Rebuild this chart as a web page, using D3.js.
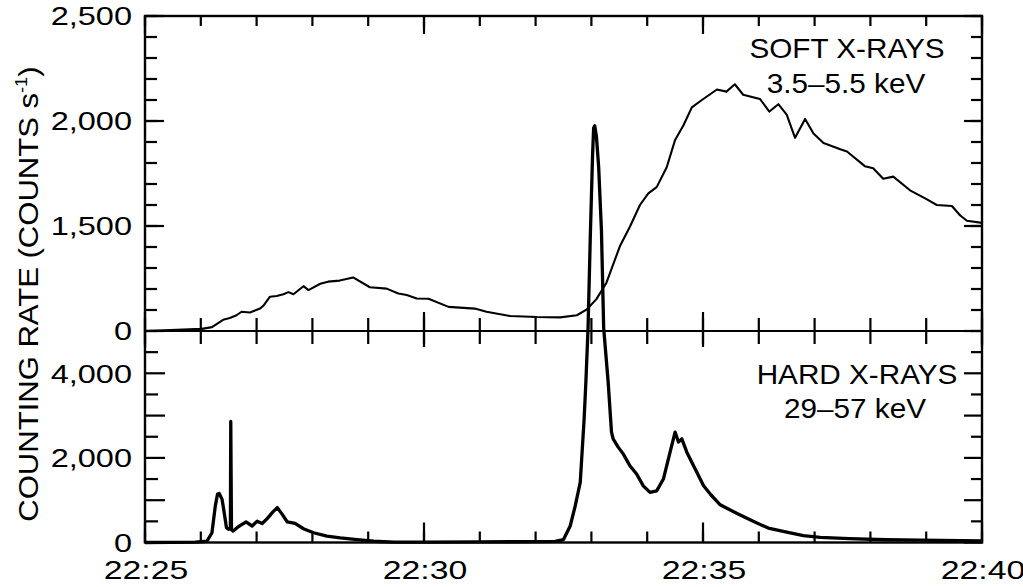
<!DOCTYPE html>
<html>
<head>
<meta charset="utf-8">
<script src="https://cdn.jsdelivr.net/npm/d3@7"></script>
<style>
  html, body { margin: 0; padding: 0; background: #fff; }
  text { font-family: "Liberation Sans", Arial, Helvetica, sans-serif; fill: #000; }
</style>
</head>
<body>
<svg id="chart" width="1023" height="587"></svg>
<script>
// Time axis labels (UT)
const timeTickLabels = ["22:25", "22:30", "22:35", "22:40"];

// Labelled count-rate ticks for each panel
const softTickValues = [0, 1500, 2000, 2500];
const hardTickValues = [0, 2000, 4000];

// Panel captions
const softCaption = ["SOFT X-RAYS", "3.5\u20135.5 keV"];
const hardCaption = ["HARD X-RAYS", "29\u201357 keV"];

// Soft X-ray count rate: [minutes after 22:25, counts per second]
const softXray = [
  [0, 0], [1.02, 30], [1.20, 55], [1.40, 160], [1.52, 185], [1.64, 225], [1.73, 275],
  [1.88, 265], [2.06, 320], [2.12, 360], [2.24, 490], [2.36, 500], [2.48, 525],
  [2.57, 555], [2.66, 525], [2.84, 640], [2.93, 585], [3.14, 675], [3.28, 705],
  [3.49, 720], [3.73, 765], [4.03, 625], [4.33, 605], [4.54, 535], [4.69, 515],
  [4.87, 465], [5.08, 460], [5.44, 345], [5.91, 320], [6.12, 275], [6.54, 215],
  [7.02, 200], [7.44, 195], [7.74, 225], [7.92, 310], [8.09, 455], [8.27, 690],
  [8.51, 1210], [8.69, 1490], [8.87, 1600], [9.02, 1655], [9.17, 1685], [9.35, 1780],
  [9.50, 1910], [9.65, 1980], [9.80, 2065], [9.98, 2100], [10.25, 2150], [10.42, 2140],
  [10.57, 2175], [10.72, 2125], [11.02, 2105], [11.19, 2045], [11.35, 2080],
  [11.50, 2030], [11.65, 1920], [11.83, 2010], [11.98, 1940], [12.16, 1895],
  [12.46, 1865], [12.58, 1855], [12.90, 1785], [13.05, 1775], [13.23, 1725],
  [13.41, 1735], [13.71, 1670], [13.99, 1630], [14.19, 1600], [14.46, 1595],
  [14.61, 1550], [14.73, 1525], [15.0, 1515]
];

// Hard X-ray count rate: [minutes after 22:25, counts per second]
const hardXray = [
  [0, 0], [0.90, 10], [1.11, 30], [1.20, 230], [1.26, 865], [1.30, 1145], [1.33, 1160],
  [1.38, 1025], [1.41, 785], [1.46, 350], [1.50, 310], [1.53, 330], [1.537, 2860],
  [1.55, 300], [1.58, 270], [1.65, 350], [1.71, 405], [1.81, 485], [1.92, 390],
  [2.01, 505], [2.10, 450], [2.19, 565], [2.28, 705], [2.37, 825], [2.46, 665],
  [2.55, 485], [2.69, 450], [2.84, 325], [3.02, 230], [3.26, 150], [3.50, 110],
  [3.80, 70], [4.10, 30], [4.46, 10], [5.0, 10], [6.0, 15], [7.0, 20], [7.35, 25],
  [7.50, 70], [7.62, 390], [7.71, 865], [7.80, 1420], [7.87, 2930], [7.90, 3760],
  [7.94, 5070], [7.98, 7215], [8.02, 9120], [8.04, 9800], [8.06, 9850], [8.09, 9600],
  [8.13, 8880], [8.18, 7380], [8.22, 5070], [8.30, 3800], [8.36, 2610], [8.39, 2450],
  [8.48, 2255], [8.57, 2095], [8.69, 1815], [8.81, 1620], [8.93, 1340], [9.05, 1185],
  [9.17, 1220], [9.29, 1500], [9.41, 2135], [9.50, 2610], [9.56, 2375], [9.62, 2450],
  [9.71, 2135], [9.86, 1740], [10.01, 1340], [10.13, 1145], [10.30, 900], [10.42, 815],
  [10.62, 680], [10.90, 500], [11.17, 340], [11.50, 245], [11.80, 165], [12.10, 120],
  [12.62, 90], [13.29, 65], [13.89, 55], [15.0, 35]
];

const svg = d3.select("#chart");
const parseTime = d3.timeParse("%H:%M");
const majorTimes = timeTickLabels.map(parseTime);
const t0 = majorTimes[0], t1 = majorTimes[majorTimes.length - 1];
const at = m => new Date(+t0 + m * 60000);
const minuteTimes = d3.timeMinute.range(t0, +t1 + 1);

// Scales: shared time axis, broken soft-X-ray axis, linear hard-X-ray axis
const x = d3.scaleTime().domain([t0, t1]).range([145, 982]);
const ySoft = d3.scaleLinear().domain([0, 1500, 2500]).range([331, 226, 16]);
const yHard = d3.scaleLinear().domain([0, 5000]).range([542.5, 331]);

const xL = x.range()[0], xR = x.range()[1];
const yBottom = yHard(0), yTop = ySoft(2500), yMid = ySoft(0);
const fmt = d3.format(",");
const timeFmt = d3.timeFormat("%H:%M");

// ---- frame and panel divider ----
svg.append("rect")
  .attr("x", xL).attr("y", yTop)
  .attr("width", xR - xL).attr("height", yBottom - yTop)
  .attr("fill", "none").attr("stroke", "#000").attr("stroke-width", 2.4);
svg.append("line")
  .attr("x1", xL).attr("x2", xR).attr("y1", yMid).attr("y2", yMid)
  .attr("stroke", "#000").attr("stroke-width", 2.2);

// ---- light curves ----
const softLine = d3.line().x(d => x(at(d[0]))).y(d => ySoft(d[1]));
const hardLine = d3.line().x(d => x(at(d[0]))).y(d => yHard(d[1]));

svg.append("path").datum(softXray).attr("d", softLine)
  .attr("fill", "none").attr("stroke", "#000").attr("stroke-width", 2.1)
  .attr("stroke-linejoin", "round");
svg.append("path").datum(hardXray).attr("d", hardLine)
  .attr("fill", "none").attr("stroke", "#000").attr("stroke-width", 3.3)
  .attr("stroke-linejoin", "round");

// ---- tick marks, drawn as thin filled bars ----
const TICK_W = 2.2;
const tickLayer = svg.append("g").attr("class", "tick-marks");
// vertical ticks at time values; y0/y1 are the ends of the mark
function timeTicks(values, y0, y1) {
  values.forEach(d => {
    tickLayer.append("rect")
      .attr("x", x(d) - TICK_W / 2).attr("y", Math.min(y0, y1))
      .attr("width", TICK_W).attr("height", Math.abs(y1 - y0))
      .attr("fill", "#000");
  });
}
// horizontal ticks at count values; x0/x1 are the ends of the mark
function rateTicks(scale, values, x0, x1) {
  values.forEach(d => {
    tickLayer.append("rect")
      .attr("x", Math.min(x0, x1)).attr("y", scale(d) - TICK_W / 2)
      .attr("width", Math.abs(x1 - x0)).attr("height", TICK_W)
      .attr("fill", "#000");
  });
}

timeTicks(minuteTimes, yBottom, yBottom - 11);
timeTicks(majorTimes, yBottom, yBottom - 20);
timeTicks(minuteTimes, yTop, yTop + 10);
timeTicks(majorTimes, yTop, yTop + 18);
timeTicks(minuteTimes, yMid - 13, yMid + 13);
timeTicks(majorTimes, yMid - 19, yMid + 16);

const softMinor = d3.range(0, 1500, 300).concat(d3.range(1500, 2501, 100));
const hardMinor = d3.range(500, 5000, 1000);
const hardMajor = d3.range(0, 5000, 1000);

rateTicks(ySoft, softMinor, xL, xL + 12);
rateTicks(ySoft, softTickValues, xL, xL + 19);
rateTicks(ySoft, softMinor, xR, xR - 11);
rateTicks(ySoft, softTickValues, xR, xR - 18);
rateTicks(yHard, hardMinor, xL, xL + 13);
rateTicks(yHard, hardMajor, xL, xL + 20);
rateTicks(yHard, hardMinor, xR, xR - 11);
rateTicks(yHard, hardMajor, xR, xR - 18);

// ---- tick labels ----
const LABEL_SIZE = 26;
svg.append("g").selectAll("text").data(majorTimes).join("text")
  .attr("text-anchor", "middle")
  .attr("transform", d => `translate(${x(d) + 1},578.5) scale(1.3,1)`)
  .style("font-size", LABEL_SIZE + "px")
  .text(timeFmt);

function rateLabels(scale, values) {
  svg.append("g").selectAll("text").data(values).join("text")
    .attr("text-anchor", "end")
    .attr("transform", d => `translate(${xL - 13},${scale(d) + 9.3}) scale(1.25,1)`)
    .style("font-size", LABEL_SIZE + "px")
    .text(fmt);
}
rateLabels(ySoft, softTickValues);
rateLabels(yHard, hardTickValues);

// ---- captions ----
function caption(lines, cx, baselines) {
  lines.forEach((s, i) => {
    svg.append("text")
      .attr("text-anchor", "middle")
      .attr("transform", `translate(${cx[i]},${baselines[i]}) scale(1.1,1)`)
      .style("font-size", "27px")
      .text(s);
  });
}
caption(softCaption, [847, 846], [57.5, 93]);
caption(hardCaption, [857, 855], [384, 418]);

// ---- y-axis title ----
const title = svg.append("text")
  .attr("text-anchor", "middle")
  .attr("transform", "translate(38,294) rotate(-90) scale(1.15,1)")
  .style("font-size", "27px");
title.append("tspan").text("COUNTING RATE (COUNTS s");
title.append("tspan").attr("dy", -11).style("font-size", "16px").text("-1");
title.append("tspan").attr("dy", 11).text(")");
</script>
</body>
</html>
